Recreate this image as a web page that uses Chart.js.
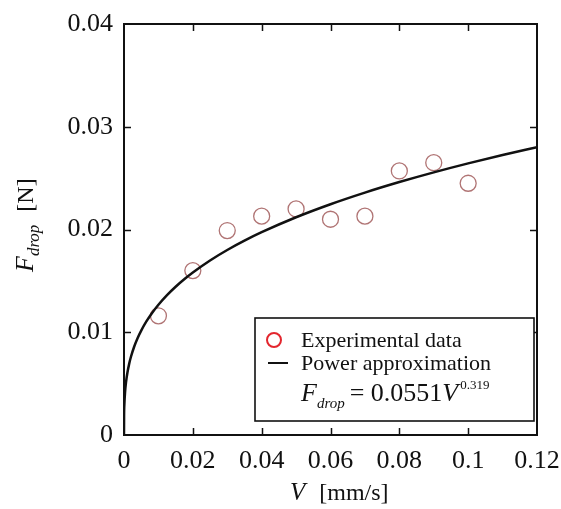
<!DOCTYPE html>
<html>
<head>
<meta charset="utf-8">
<script src="https://cdn.jsdelivr.net/npm/chart.js@4.4.1/dist/chart.umd.min.js"></script>
<style>
  body { margin: 0; background: #fff; }
  #grafico { display: block; }
</style>
</head>
<body>
<canvas id="grafico" width="561" height="509"></canvas>
<script>
// medidas: velocidade (mm/s) e força de destacamento (N)
const velocidades = [0.01, 0.02, 0.03, 0.04, 0.05, 0.06, 0.07, 0.08, 0.09, 0.10];
const forcas = [0.0116, 0.0160, 0.0199, 0.0213, 0.0220, 0.0210, 0.0213, 0.0257, 0.0265, 0.0245];

// ajuste de potência F = A * V^B (mesmos coeficientes da legenda)
const coefA = 0.0551;
const coefB = 0.319;
const velocidadesAjuste = [0, 0.00002, 0.0001, 0.0003, 0.0006, 0.001, 0.0015, 0.002, 0.003, 0.004,
  0.005, 0.0065, 0.008, 0.01, 0.0125, 0.015, 0.0175, 0.02, 0.025, 0.03, 0.035, 0.04, 0.05,
  0.06, 0.07, 0.08, 0.09, 0.1, 0.11, 0.12];

const ticksX = [0, 0.02, 0.04, 0.06, 0.08, 0.1, 0.12];
const ticksY = [0, 0.01, 0.02, 0.03, 0.04];

const fonte = '"Liberation Serif", "DejaVu Serif", serif';

let pontosMedidos = [];
for (let i = 0; i < velocidades.length; i++) {
  pontosMedidos.push({ x: velocidades[i], y: forcas[i] });
}
let pontosAjuste = velocidadesAjuste.map(v => ({ x: v, y: coefA * Math.pow(v, coefB) }));

function rotuloNumero(v) {
  if (Math.abs(v) < 1e-9) return '0';
  return String(parseFloat(v.toFixed(2)));
}

// desenha trechos de texto em sequência (itálico, subscrito, sobrescrito)
function escreverTrechos(ctx, x, y, trechos) {
  ctx.textBaseline = 'alphabetic';
  ctx.textAlign = 'left';
  for (const t of trechos) {
    ctx.font = (t.italico ? 'italic ' : '') + t.tam + 'px ' + fonte;
    ctx.fillText(t.texto, x, y + (t.dy || 0));
    x += ctx.measureText(t.texto).width + (t.depois || 0);
  }
  return x;
}

const molduraPlugin = {
  id: 'moldura',
  afterDraw(chart) {
    const ctx = chart.ctx;
    const area = chart.chartArea;
    const sx = chart.scales.x;
    const sy = chart.scales.y;
    ctx.save();
    ctx.strokeStyle = '#111';
    ctx.fillStyle = '#111';

    // marcas para dentro nos quatro lados
    ctx.lineWidth = 1.5;
    ctx.beginPath();
    ticksX.slice(1, -1).forEach(v => {
      const px = Math.round(sx.getPixelForValue(v)) + 0.5;
      ctx.moveTo(px, area.bottom); ctx.lineTo(px, area.bottom - 7);
      ctx.moveTo(px, area.top); ctx.lineTo(px, area.top + 7);
    });
    ticksY.slice(1, -1).forEach(v => {
      const py = Math.round(sy.getPixelForValue(v)) + 0.5;
      ctx.moveTo(area.left, py); ctx.lineTo(area.left + 7, py);
      ctx.moveTo(area.right, py); ctx.lineTo(area.right - 7, py);
    });
    ctx.stroke();

    ctx.lineWidth = 2;
    ctx.strokeRect(area.left, area.top, area.right - area.left, area.bottom - area.top);

    // legenda com caixa
    const lx = area.left + 131, ly = area.bottom - 117;
    const lw = 279, lh = 103;
    ctx.fillStyle = '#fff';
    ctx.fillRect(lx, ly, lw, lh);
    ctx.lineWidth = 1.6;
    ctx.strokeStyle = '#111';
    ctx.strokeRect(lx, ly, lw, lh);

    ctx.strokeStyle = '#e3262e';
    ctx.lineWidth = 2;
    ctx.beginPath();
    ctx.arc(lx + 19, ly + 22, 7, 0, Math.PI * 2);
    ctx.stroke();

    ctx.strokeStyle = '#111';
    ctx.lineWidth = 2;
    ctx.beginPath();
    ctx.moveTo(lx + 13, ly + 45);
    ctx.lineTo(lx + 33, ly + 45);
    ctx.stroke();

    ctx.fillStyle = '#111';
    escreverTrechos(ctx, lx + 46, ly + 29, [{ texto: 'Experimental data', tam: 22 }]);
    escreverTrechos(ctx, lx + 46, ly + 52, [{ texto: 'Power approximation', tam: 22 }]);
    escreverTrechos(ctx, lx + 46, ly + 83, [
      { texto: 'F', tam: 26, italico: true },
      { texto: 'drop', tam: 15, italico: true, dy: 7, depois: 5 },
      { texto: '= 0.0551', tam: 26 },
      { texto: 'V', tam: 26, italico: true, depois: 2 },
      { texto: '0.319', tam: 13, dy: -12 }
    ]);

    // título do eixo x
    escreverTrechos(ctx, area.left + 166, area.bottom + 65, [
      { texto: 'V', tam: 25, italico: true, depois: 14 },
      { texto: '[mm/s]', tam: 24 }
    ]);

    // título do eixo y (girado)
    ctx.translate(area.left - 91, area.top + 248);
    ctx.rotate(-Math.PI / 2);
    escreverTrechos(ctx, 0, 0, [
      { texto: 'F', tam: 26, italico: true },
      { texto: 'drop', tam: 17, italico: true, dy: 6, depois: 13 },
      { texto: '[N]', tam: 24 }
    ]);
    ctx.restore();
  }
};

const config = {
  type: 'scatter',
  data: {
    datasets: [{
      label: 'Power approximation',
      type: 'line',
      data: pontosAjuste,
      borderColor: '#111',
      borderWidth: 2.5,
      pointRadius: 0,
      fill: false,
      tension: 0.3,
      cubicInterpolationMode: 'monotone'
    }, {
      label: 'Experimental data',
      data: pontosMedidos,
      pointStyle: 'circle',
      pointRadius: 8,
      pointBorderWidth: 1.3,
      pointBorderColor: '#b07474',
      pointBackgroundColor: 'rgba(0,0,0,0)'
    }]
  },
  options: {
    responsive: false,
    animation: false,
    events: [],
    layout: { padding: { left: 0, top: 24, right: 24, bottom: 0 } },
    plugins: {
      legend: { display: false },
      tooltip: { enabled: false }
    },
    scales: {
      x: {
        type: 'linear',
        min: 0,
        max: 0.12,
        afterBuildTicks: s => { s.ticks = ticksX.map(v => ({ value: v })); },
        afterFit: s => { s.height = 74; s.paddingLeft = 0; s.paddingRight = 0; },
        grid: { drawOnChartArea: false, drawTicks: false },
        border: { display: false },
        ticks: {
          color: '#111',
          padding: 11,
          maxRotation: 0,
          font: { family: fonte, size: 26 },
          callback: v => rotuloNumero(v)
        }
      },
      y: {
        type: 'linear',
        min: 0,
        max: 0.04,
        afterBuildTicks: s => { s.ticks = ticksY.map(v => ({ value: v })); },
        afterFit: s => { s.width = 124; s.paddingTop = 0; s.paddingBottom = 0; },
        grid: { drawOnChartArea: false, drawTicks: false },
        border: { display: false },
        ticks: {
          color: '#111',
          padding: 11,
          font: { family: fonte, size: 26 },
          callback: v => rotuloNumero(v)
        }
      }
    }
  },
  plugins: [molduraPlugin]
};

let grafico = new Chart(document.getElementById('grafico'), config);
</script>
</body>
</html>
